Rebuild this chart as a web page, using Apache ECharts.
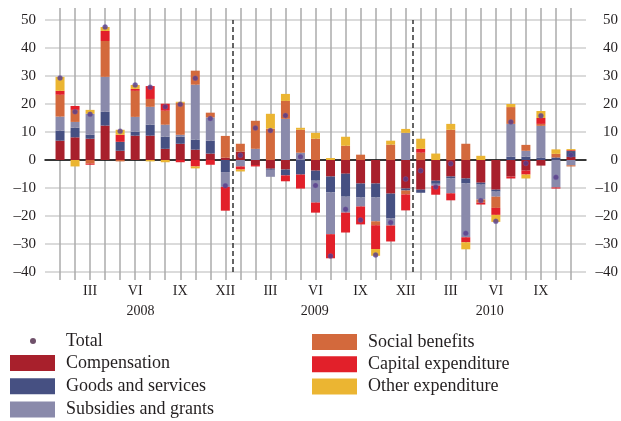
<!DOCTYPE html>
<html>
<head>
<meta charset="utf-8">
<script src="https://cdn.jsdelivr.net/npm/echarts@6/dist/echarts.min.js"></script>
<style>
  html, body { margin: 0; padding: 0; background: #fff; }
  #chart { width: 621px; height: 421px; }
</style>
</head>
<body>
<div id="chart"></div>
<script>
const years = ["2008", "2009", "2010"];
const romanMonths = ["I", "II", "III", "IV", "V", "VI", "VII", "VIII", "IX", "X", "XI", "XII"];
const labelledMonths = ["III", "VI", "IX", "XII"];
const yearLabelAt = [6.35, 17.95, 29.6];
const yearBreaks = [12.5, 24.5];

// Jan 2008 .. Nov 2010
const compensation = [6.9, 8.1, 7.6, 12.3, 3.3, 8.7, 8.7, 4.0, 5.8, 3.7, 2.3, 0.8,
  3.0, -1.8, -3.1, -3.4, 0, -3.8, -5.9, -4.9, -8.4, -8.4, -12.0, -10.2,
  -10.6, -7.4, -5.9, -6.6, -8.1, -10.6, -5.9, -3.8, -2.0, 0, 1.1];
const goodsServices = [3.6, 3.4, 1.4, 4.9, 3.2, 1.4, 3.9, 4.3, 2.5, 3.6, 4.6, -4.3,
  0, 0, -0.4, -2.1, -5.2, -3.6, -5.7, -8.2, -5.0, -5.0, -8.9, -0.7,
  -1.1, -1.1, -0.7, -1.8, -0.7, -0.7, 1.2, 1.2, 0.9, 0.9, 2.1];
const subsidies = [5.0, 2.1, 7.5, 12.5, 0, 5.3, 6.4, 4.3, 0.7, 19.6, 8.3, -5.3,
  -2.3, 4.0, -2.5, 14.7, 2.6, -7.8, -14.9, -5.7, -3.2, -8.5, -2.5, 9.7,
  0, -0.7, -5.3, -19.2, -5.3, -1.8, 11.7, 2.1, 11.3, -9.8, -1.9];
const socialBenefits = [7.8, 4.3, -1.3, 12.8, -0.5, 9.3, 2.8, 5.0, 11.4, 5.0, 1.7, 7.8,
  2.8, 10.0, 11.2, 6.4, 8.2, 7.6, 0, 5.1, 1.9, -1.4, 5.5, -1.4,
  2.6, 0, 10.8, 5.8, -1.1, -4.0, 6.0, 2.1, 0.7, 1.3, -0.4];
const capitalExp = [1.4, 1.4, -0.4, 3.6, 2.5, 0.7, 4.6, 2.5, -0.8, -2.3, -1.7, -8.5,
  -1.1, -0.5, 0, -2.1, -5.0, -3.6, -8.6, -7.1, -6.4, -8.5, -5.7, -5.7,
  1.4, -3.2, -2.5, -1.8, -0.7, -2.5, -0.7, -1.4, 2.1, -0.4, 0.3];
const otherExp = [5.0, -2.3, 1.4, 1.4, 1.8, 1.4, -0.5, -0.8, 0.4, -0.7, 0, 0,
  -0.7, 0, 5.3, 2.5, 0.7, 2.1, 0.7, 3.2, 0, -2.4, 1.4, 1.4,
  3.6, 2.3, 2.1, -2.5, 1.5, -2.5, 1.1, -1.4, 2.5, 1.6, 0.4];
const total = [29.3, 17.2, 16.3, 47.5, 10.3, 26.8, 26.0, 19.0, 19.9, 29.2, 14.8, -9.2,
  1.7, 11.4, 10.5, 15.9, 1.2, -9.1, -34.3, -17.6, -21.4, -33.9, -22.3, -6.8,
  -3.8, -9.6, -1.3, -26.2, -14.5, -21.9, 13.6, -1.2, 15.8, -6.2, 1.8];

const FONT = "Liberation Serif";
const TEXT = "#231f20";

// one empty slot before Jan 2008 and after Nov 2010
const categories = ["XII 2007"];
years.forEach((y) => romanMonths.forEach((m) => categories.push(`${m} ${y}`)));
categories.length = compensation.length + 1;
categories.push("XII 2010");
const lastIndex = categories.length - 1;

function padded(values) {
  return [null, ...values, null];
}

function dashLabel(v) {
  return v < 0 ? "\u2013" + Math.abs(v) : String(v);
}

const isMonth = (i) => i > 0 && i < lastIndex;
const vertLine = { color: "#ababab", width: 1.5 };

const stackSeries = [
  ["Compensation", compensation, "#a8202c"],
  ["Goods and services", goodsServices, "#465082"],
  ["Subsidies and grants", subsidies, "#8a8aab"],
  ["Social benefits", socialBenefits, "#d3693c"],
  ["Capital expenditure", capitalExp, "#e2202a"],
  ["Other expenditure", otherExp, "#ebb532"],
].map(([name, values, color]) => ({
  name,
  type: "bar",
  stack: "spend",
  barWidth: 9,
  xAxisIndex: 0,
  yAxisIndex: 0,
  itemStyle: { color },
  data: padded(values),
}));

const legendText = { fontFamily: FONT, fontSize: 18, color: TEXT, padding: [0, 0, 0, 6] };

const chart = echarts.init(document.getElementById("chart"));
chart.setOption({
  animation: false,
  backgroundColor: "#fff",
  grid: { left: 45, right: 33, top: 20, bottom: 149 },
  xAxis: [
    {
      type: "category",
      data: categories,
      boundaryGap: false,
      position: "bottom",
      axisLine: { show: false, onZero: false },
      axisTick: { show: true, length: 8, interval: isMonth, lineStyle: vertLine },
      splitLine: { show: true, interval: isMonth, lineStyle: vertLine },
      axisLabel: {
        interval: (i, v) => isMonth(i) && labelledMonths.includes(v.split(" ")[0]),
        formatter: (v) => v.split(" ")[0],
        margin: 12,
        fontFamily: FONT,
        fontSize: 14,
        color: TEXT,
      },
    },
    {
      type: "category",
      data: categories,
      boundaryGap: false,
      position: "bottom",
      axisLine: { show: true, onZero: true, lineStyle: { color: "#000", width: 1.5 } },
      axisTick: { show: false },
      axisLabel: { show: false },
      splitLine: { show: false },
    },
    {
      type: "value",
      min: 0,
      max: lastIndex,
      position: "bottom",
      axisLine: { show: false, onZero: false },
      axisTick: { show: false },
      splitLine: { show: false },
      axisLabel: {
        customValues: yearLabelAt,
        formatter: (v) => years[yearLabelAt.indexOf(v)] || "",
        margin: 32,
        fontFamily: FONT,
        fontSize: 14,
        color: TEXT,
      },
    },
    {
      type: "category",
      data: categories,
      boundaryGap: false,
      position: "top",
      axisLine: { show: false, onZero: false },
      axisTick: { show: true, length: 12, interval: isMonth, lineStyle: vertLine },
      axisLabel: { show: false },
      splitLine: { show: false },
    },
  ],
  yAxis: [
    {
      type: "value",
      min: -40,
      max: 50,
      interval: 10,
      position: "left",
      axisLine: { show: false },
      axisTick: { show: false },
      splitLine: { show: true, lineStyle: { color: "#cfcfcf", width: 1.5 } },
      axisLabel: { formatter: dashLabel, margin: 9, fontFamily: FONT, fontSize: 15, color: TEXT },
    },
    {
      type: "value",
      min: -40,
      max: 50,
      interval: 10,
      position: "right",
      axisLine: { show: false },
      axisTick: { show: false },
      splitLine: { show: false },
      axisLabel: { formatter: dashLabel, align: "right", margin: 32, fontFamily: FONT, fontSize: 15, color: TEXT },
    },
  ],
  legend: [
    {
      data: [{ name: "Total", itemStyle: { color: "#4b2645", borderWidth: 0 } }],
      icon: "circle",
      left: 30,
      top: 332,
      padding: 0,
      itemWidth: 6,
      itemHeight: 6,
      selectedMode: false,
      textStyle: { ...legendText, padding: [0, 0, 0, 25] },
    },
    {
      data: ["Compensation", "Goods and services", "Subsidies and grants"],
      icon: "rect",
      orient: "vertical",
      left: 10,
      top: 354,
      padding: 0,
      itemWidth: 45,
      itemHeight: 16,
      itemGap: 5.3,
      selectedMode: false,
      textStyle: legendText,
    },
    {
      data: ["Social benefits", "Capital expenditure", "Other expenditure"],
      icon: "rect",
      orient: "vertical",
      left: 312,
      top: 333,
      padding: 0,
      itemWidth: 45,
      itemHeight: 16,
      itemGap: 4.3,
      selectedMode: false,
      textStyle: legendText,
    },
  ],
  series: [
    ...stackSeries,
    {
      name: "Total",
      type: "scatter",
      xAxisIndex: 0,
      yAxisIndex: 0,
      symbolSize: 5,
      z: 5,
      itemStyle: { color: "#553a8a", borderColor: "rgba(120, 100, 170, 0.45)", borderWidth: 1 },
      data: padded(total),
    },
    {
      name: "breaks",
      type: "line",
      xAxisIndex: 2,
      yAxisIndex: 0,
      data: [],
      markLine: {
        silent: true,
        symbol: "none",
        label: { show: false },
        lineStyle: { color: "#333", width: 1.5, type: [5, 3] },
        data: yearBreaks.map((x) => ({ xAxis: x })),
      },
    },
  ],
});
</script>
</body>
</html>
